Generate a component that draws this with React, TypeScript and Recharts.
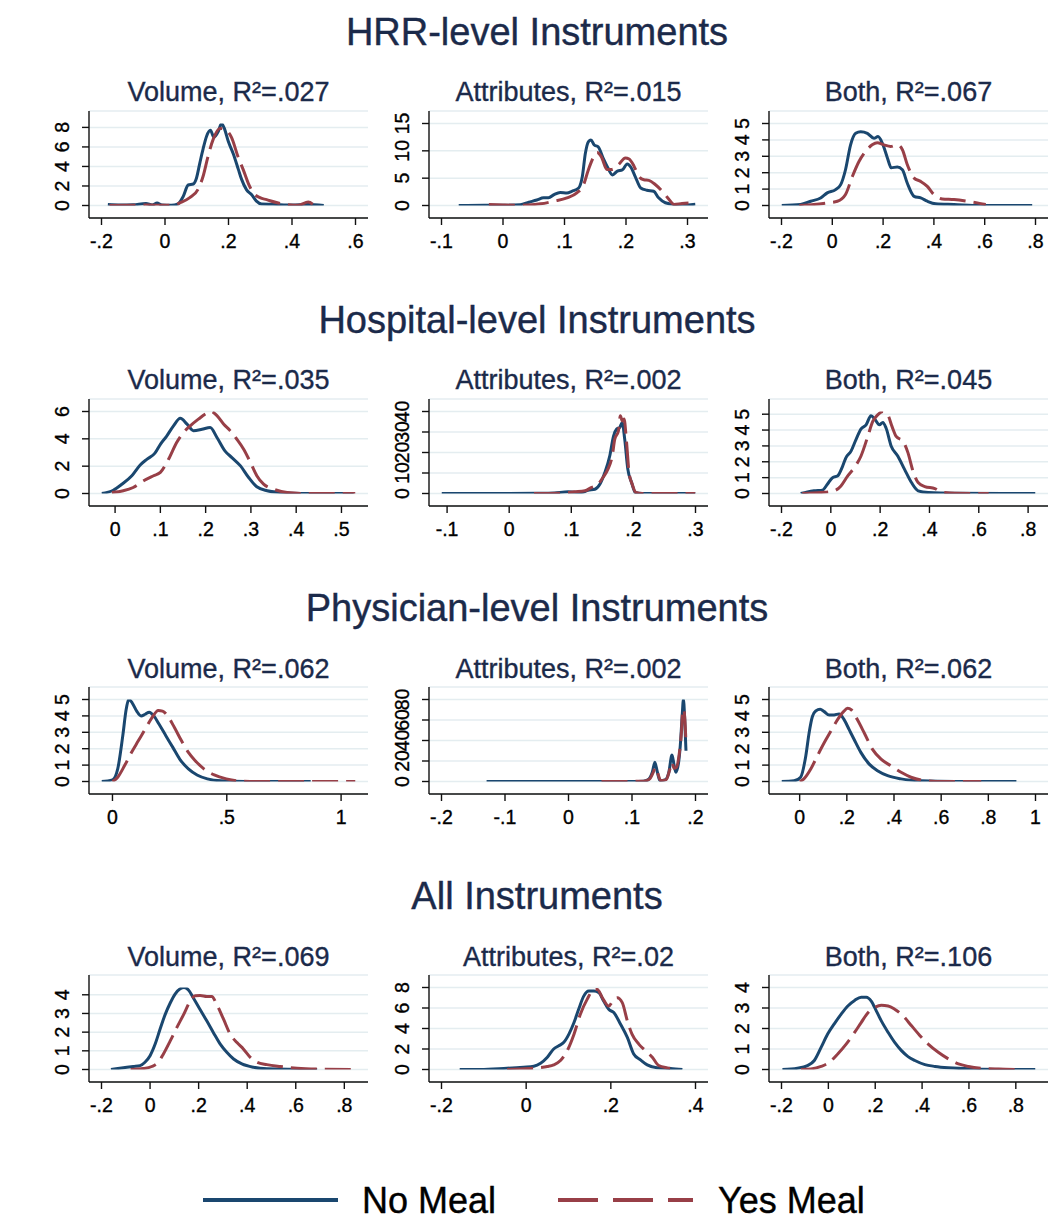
import React from 'react';
import { LineChart, Line, XAxis, YAxis, CartesianGrid } from 'recharts';

type Pt = [number, number];

// ---------- data (x, density) ----------
const hrrVolNo: Pt[] = [[-0.18,0.1],[-0.14,0.05],[-0.1,0.08],[-0.06,0.2],[-0.04,0.06],[-0.025,0.25],[-0.01,0.06],[0.02,0.03],[0.04,0.15],[0.057,0.9],[0.073,2.1],[0.089,2.2],[0.099,2.8],[0.11,4.4],[0.12,5.8],[0.131,7.1],[0.143,7.7],[0.154,7.0],[0.168,7.6],[0.178,8.4],[0.188,7.8],[0.199,6.6],[0.215,5.3],[0.231,3.7],[0.241,2.7],[0.257,1.6],[0.273,1.1],[0.288,0.45],[0.304,0.15],[0.34,0.12],[0.4,0.05],[0.45,0.1],[0.5,0.0]];
const hrrVolYes: Pt[] = [[-0.175,0],[-0.1,0.02],[-0.05,0.05],[0,0.02],[0.03,0.05],[0.047,0.28],[0.078,0.8],[0.104,1.65],[0.12,3.0],[0.136,5.1],[0.152,6.8],[0.173,7.9],[0.188,7.8],[0.209,7.0],[0.231,4.9],[0.246,3.7],[0.262,2.3],[0.278,1.3],[0.299,0.8],[0.32,0.6],[0.351,0.3],[0.383,0.1],[0.42,0.02],[0.451,0.35],[0.467,0.1]];
const hrrAttNo: Pt[] = [[-0.072,0],[-0.03,0.05],[0,0.05],[0.028,0.15],[0.042,0.6],[0.055,1.0],[0.066,1.4],[0.074,1.4],[0.083,2.0],[0.093,2.4],[0.104,2.3],[0.112,2.6],[0.123,3.2],[0.129,5.3],[0.134,9.6],[0.139,11.7],[0.143,12.0],[0.148,11.1],[0.155,10.7],[0.163,8.6],[0.17,7.0],[0.178,5.6],[0.186,6.3],[0.194,6.5],[0.202,7.6],[0.208,7.0],[0.215,5.3],[0.224,3.2],[0.234,2.8],[0.245,2.6],[0.253,1.4],[0.264,0.5],[0.278,0.2],[0.3,0.1],[0.313,0.25]];
const hrrAttYes: Pt[] = [[-0.023,0.2],[0,0.1],[0.02,0.05],[0.04,0.1],[0.061,0.3],[0.083,0.8],[0.104,1.4],[0.12,2.3],[0.131,3.8],[0.139,6.6],[0.148,9.0],[0.153,9.7],[0.16,8.9],[0.169,6.6],[0.177,6.6],[0.188,7.5],[0.199,8.7],[0.205,8.5],[0.213,7.2],[0.221,5.3],[0.229,4.7],[0.237,4.6],[0.248,3.8],[0.259,2.6],[0.27,1.1],[0.278,0.2],[0.291,0.36],[0.31,0.5]];
const hrrBothNo: Pt[] = [[-0.2,0],[-0.125,0.06],[-0.085,0.26],[-0.046,0.46],[-0.02,0.77],[0.013,0.97],[0.033,1.27],[0.052,2.18],[0.072,3.7],[0.092,4.4],[0.112,4.5],[0.138,4.4],[0.164,4.1],[0.18,4.2],[0.197,3.8],[0.217,2.9],[0.232,2.3],[0.256,2.35],[0.276,2.18],[0.295,1.37],[0.322,0.56],[0.348,0.46],[0.374,0.26],[0.407,0.1],[0.479,0.06],[0.584,0],[0.787,0]];
const hrrBothYes: Pt[] = [[-0.13,0],[-0.072,0.06],[-0.02,0.16],[0.02,0.26],[0.052,0.67],[0.079,1.77],[0.105,2.68],[0.131,3.3],[0.157,3.7],[0.177,3.83],[0.203,3.7],[0.23,3.6],[0.256,3.7],[0.276,3.4],[0.295,2.5],[0.322,1.67],[0.348,1.47],[0.374,1.17],[0.4,0.67],[0.433,0.4],[0.479,0.36],[0.531,0.26],[0.571,0.16],[0.604,0.06]];

const hospVolNo: Pt[] = [[-0.03,0],[-0.004,0.24],[0.015,0.68],[0.037,1.3],[0.055,2.07],[0.07,2.5],[0.088,2.95],[0.1,3.6],[0.114,4.2],[0.129,4.95],[0.144,5.5],[0.159,5.07],[0.173,4.6],[0.192,4.7],[0.21,4.83],[0.225,4.1],[0.243,3.1],[0.258,2.63],[0.277,2.02],[0.295,1.17],[0.313,0.49],[0.336,0.2],[0.365,0.07],[0.41,0],[0.527,0]];
const hospVolYes: Pt[] = [[-0.007,0.07],[0.018,0.2],[0.04,0.44],[0.063,0.93],[0.085,1.3],[0.1,1.54],[0.118,2.5],[0.136,3.73],[0.151,4.46],[0.166,4.95],[0.184,5.44],[0.203,5.88],[0.212,6.0],[0.225,5.7],[0.24,5.07],[0.254,4.6],[0.269,3.97],[0.284,3.24],[0.299,2.27],[0.313,1.3],[0.328,0.68],[0.35,0.32],[0.38,0.07],[0.424,0],[0.531,0]];
const hospAttNo: Pt[] = [[-0.109,0],[0,0],[0.05,0.1],[0.073,0.3],[0.095,0.8],[0.116,0.5],[0.127,1.6],[0.138,2.1],[0.146,4.5],[0.154,10.2],[0.162,18.4],[0.168,28],[0.173,31.4],[0.178,32.2],[0.182,34.6],[0.186,26.5],[0.191,11.9],[0.197,5.4],[0.203,0.5],[0.214,0],[0.3,0]];
const hospAttYes: Pt[] = [[0.04,0],[0.084,0.2],[0.105,0.8],[0.122,1.3],[0.132,2.9],[0.143,4.5],[0.151,7.8],[0.159,11.9],[0.166,18.4],[0.17,26.5],[0.176,30.6],[0.179,37.9],[0.182,35.4],[0.185,36.3],[0.189,24.9],[0.193,10.2],[0.198,4.6],[0.204,0.5],[0.214,0],[0.3,0]];
const hospBothNo: Pt[] = [[-0.122,0],[-0.095,0.1],[-0.068,0.17],[-0.034,0.21],[-0.014,0.58],[0.007,1.0],[0.027,1.1],[0.048,1.73],[0.061,2.25],[0.082,2.67],[0.102,3.4],[0.122,4.06],[0.143,4.33],[0.163,4.9],[0.18,4.65],[0.197,4.33],[0.211,4.48],[0.224,4.13],[0.245,2.98],[0.272,2.35],[0.299,1.52],[0.327,0.69],[0.354,0.17],[0.395,0.06],[0.503,0.02],[0.83,0]];
const hospBothYes: Pt[] = [[-0.116,0],[-0.041,0.06],[0.014,0.17],[0.041,0.48],[0.068,1.1],[0.095,1.63],[0.122,2.35],[0.15,3.6],[0.17,4.54],[0.19,4.96],[0.211,5.17],[0.231,4.96],[0.248,4.23],[0.265,3.6],[0.293,3.29],[0.313,2.56],[0.333,1.42],[0.354,0.69],[0.381,0.44],[0.422,0.31],[0.449,0.1],[0.503,0.02],[0.64,0]];

const physVolNo: Pt[] = [[-0.048,0],[0,0.1],[0.023,0.77],[0.045,2.78],[0.06,4.4],[0.071,5.0],[0.086,4.8],[0.106,4.29],[0.125,4.0],[0.143,4.1],[0.161,4.23],[0.181,4.0],[0.204,3.49],[0.234,2.78],[0.264,2.08],[0.294,1.37],[0.332,0.77],[0.37,0.4],[0.415,0.16],[0.475,0.04],[0.58,0],[0.867,0]];
const physVolYes: Pt[] = [[0,0],[0.023,0.26],[0.053,0.97],[0.083,1.77],[0.113,2.48],[0.143,3.19],[0.173,3.89],[0.2,4.33],[0.219,4.29],[0.241,4.0],[0.271,3.29],[0.302,2.48],[0.332,1.77],[0.362,1.27],[0.4,0.77],[0.445,0.4],[0.498,0.16],[0.55,0.04],[0.656,0],[1.063,0]];
const physAttNo: Pt[] = [[-0.129,0],[0,0],[0.1,0.1],[0.118,0.3],[0.125,1.6],[0.132,9],[0.136,18.7],[0.14,9],[0.144,1.0],[0.152,1.6],[0.158,9],[0.163,25.8],[0.166,17],[0.169,9],[0.173,17],[0.176,34.8],[0.179,63.9],[0.181,80],[0.183,60.6],[0.185,30]];
const physAttYes: Pt[] = [[0.052,0],[0.1,0.1],[0.118,0.3],[0.128,2.6],[0.134,9.7],[0.137,13.9],[0.141,7.4],[0.145,1.0],[0.154,1.9],[0.159,10.6],[0.163,18.7],[0.166,12.9],[0.17,13.9],[0.174,25.2],[0.178,49.4],[0.18,70.3],[0.182,68.7],[0.185,38]];
const physBothNo: Pt[] = [[-0.077,0],[-0.024,0.04],[0.004,0.26],[0.026,1.56],[0.04,2.96],[0.054,3.96],[0.068,4.3],[0.087,4.4],[0.104,4.26],[0.125,4.06],[0.146,4.06],[0.167,4.12],[0.189,3.76],[0.21,3.16],[0.231,2.56],[0.26,1.76],[0.295,1.06],[0.33,0.66],[0.373,0.36],[0.43,0.16],[0.515,0.04],[0.657,0],[0.919,0]];
const physBothYes: Pt[] = [[0,0],[0.018,0.16],[0.047,0.76],[0.075,1.56],[0.104,2.36],[0.132,3.06],[0.16,3.76],[0.186,4.26],[0.203,4.46],[0.22,4.36],[0.245,3.76],[0.274,2.96],[0.309,1.96],[0.345,1.36],[0.387,0.96],[0.43,0.56],[0.472,0.26],[0.529,0.06],[0.6,0],[0.77,0]];

const allVolNo: Pt[] = [[-0.161,0],[-0.11,0.09],[-0.069,0.16],[-0.041,0.21],[-0.021,0.39],[0,0.74],[0.021,1.36],[0.041,2.15],[0.062,2.94],[0.083,3.56],[0.103,4.04],[0.124,4.32],[0.14,4.39],[0.158,4.26],[0.179,3.82],[0.206,3.21],[0.234,2.59],[0.261,1.97],[0.289,1.36],[0.316,0.92],[0.344,0.56],[0.378,0.3],[0.426,0.12],[0.481,0.04],[0.688,0]];
const allVolYes: Pt[] = [[-0.08,0],[-0.028,0.05],[0.007,0.16],[0.034,0.39],[0.055,0.83],[0.083,1.53],[0.11,2.24],[0.138,2.94],[0.165,3.65],[0.186,3.95],[0.206,3.96],[0.234,3.91],[0.254,3.91],[0.275,3.47],[0.303,2.68],[0.33,1.89],[0.358,1.44],[0.385,1.09],[0.413,0.65],[0.44,0.39],[0.481,0.26],[0.536,0.16],[0.605,0.07],[0.702,0.02],[0.846,0]];
const allAttNo: Pt[] = [[-0.157,0],[-0.108,0],[-0.053,0.1],[-0.006,0.23],[0.018,0.32],[0.034,0.6],[0.05,1.19],[0.065,2.0],[0.077,2.32],[0.089,2.65],[0.101,3.45],[0.113,4.58],[0.124,5.87],[0.136,7.16],[0.148,7.65],[0.16,7.65],[0.172,7.48],[0.183,6.68],[0.195,5.87],[0.207,5.55],[0.223,4.42],[0.239,3.13],[0.254,1.52],[0.27,0.94],[0.286,0.45],[0.309,0.16],[0.341,0.1],[0.369,0]];
const allAttYes: Pt[] = [[-0.045,0],[-0.013,0.06],[0.026,0.16],[0.05,0.29],[0.065,0.45],[0.081,0.87],[0.097,1.84],[0.113,3.45],[0.128,5.39],[0.144,6.84],[0.16,7.8],[0.168,7.8],[0.18,7.0],[0.195,6.19],[0.207,6.84],[0.215,7.0],[0.227,6.52],[0.239,4.74],[0.25,3.45],[0.266,2.48],[0.282,1.84],[0.298,1.19],[0.313,0.39],[0.333,0.16],[0.357,0.06]];
const allBothNo: Pt[] = [[-0.196,0],[-0.132,0.06],[-0.089,0.19],[-0.06,0.44],[-0.031,1.08],[-0.003,1.73],[0.026,2.24],[0.054,2.69],[0.083,3.1],[0.112,3.37],[0.14,3.53],[0.162,3.53],[0.183,3.34],[0.205,2.85],[0.226,2.37],[0.255,1.81],[0.283,1.32],[0.312,0.92],[0.34,0.63],[0.369,0.44],[0.412,0.24],[0.455,0.15],[0.512,0.08],[0.612,0.03],[0.884,0]];
const allBothYes: Pt[] = [[-0.117,0],[-0.074,0.03],[-0.031,0.15],[0.004,0.35],[0.04,0.76],[0.076,1.24],[0.112,1.81],[0.14,2.29],[0.169,2.77],[0.197,3.02],[0.226,3.13],[0.255,3.1],[0.283,2.94],[0.319,2.61],[0.355,2.13],[0.391,1.65],[0.426,1.24],[0.469,0.84],[0.512,0.52],[0.555,0.27],[0.598,0.15],[0.655,0.06],[0.727,0.02],[0.798,0]];

// ---------- labels & ticks ----------
const sectionTitles = ['HRR-level Instruments', 'Hospital-level Instruments', 'Physician-level Instruments', 'All Instruments'];
const panelTitles = [
  'Volume, R\u00B2=.027', 'Attributes, R\u00B2=.015', 'Both, R\u00B2=.067',
  'Volume, R\u00B2=.035', 'Attributes, R\u00B2=.002', 'Both, R\u00B2=.045',
  'Volume, R\u00B2=.062', 'Attributes, R\u00B2=.002', 'Both, R\u00B2=.062',
  'Volume, R\u00B2=.069', 'Attributes, R\u00B2=.02', 'Both, R\u00B2=.106',
];
const xTickSets: number[][] = [
  [-0.2, 0, 0.2, 0.4, 0.6], [-0.1, 0, 0.1, 0.2, 0.3], [-0.2, 0, 0.2, 0.4, 0.6, 0.8],
  [0, 0.1, 0.2, 0.3, 0.4, 0.5], [-0.1, 0, 0.1, 0.2, 0.3], [-0.2, 0, 0.2, 0.4, 0.6, 0.8],
  [0, 0.5, 1], [-0.2, -0.1, 0, 0.1, 0.2], [0, 0.2, 0.4, 0.6, 0.8, 1],
  [-0.2, 0, 0.2, 0.4, 0.6, 0.8], [-0.2, 0, 0.2, 0.4], [-0.2, 0, 0.2, 0.4, 0.6, 0.8],
];
const yTickSets: number[][] = [
  [0, 2, 4, 6, 8], [0, 5, 10, 15], [0, 1, 2, 3, 4, 5],
  [0, 2, 4, 6], [0, 10, 20, 30, 40], [0, 1, 2, 3, 4, 5],
  [0, 1, 2, 3, 4, 5], [0, 20, 40, 60, 80], [0, 1, 2, 3, 4, 5],
  [0, 1, 2, 3, 4], [0, 2, 4, 6, 8], [0, 1, 2, 3, 4],
];
const noMealSeries: Pt[][] = [hrrVolNo, hrrAttNo, hrrBothNo, hospVolNo, hospAttNo, hospBothNo, physVolNo, physAttNo, physBothNo, allVolNo, allAttNo, allBothNo];
const yesMealSeries: Pt[][] = [hrrVolYes, hrrAttYes, hrrBothYes, hospVolYes, hospAttYes, hospBothYes, physVolYes, physAttYes, physBothYes, allVolYes, allAttYes, allBothYes];
const legendLabels = ['No Meal', 'Yes Meal'];

// ---------- style ----------
const FONT = '"Liberation Sans", Arial, Helvetica, sans-serif';
const NAVY = '#1a476f';
const MAROON = '#983f47';
const TITLE = '#1b2a4a';
const GRID = '#e4edf0';
const TICK_FS = 19.5;

const PLOT_W = 279;
const PLOT_H = 107;
const COL_X = [89, 429, 769];
const ROW_TOP = [111, 399, 687, 975];
const PANEL_TITLE_Y = [101, 389, 678, 966];
const SECTION_Y = [45, 333, 621, 909];
const Y_AXIS_W = 50;
const M_TOP = 5;
const M_RIGHT = 6;
const X_AXIS_H = 40;
const PAD = 12.5;

const fmtX = (v: number) => {
  if (v === 0) return '0';
  const s = String(v);
  return s.replace('0.', '.');
};

const RotTick = (props: any) => {
  const { x, y, payload } = props;
  return (
    <text x={x} y={y} transform={`rotate(-90 ${x} ${y})`} textAnchor="middle" fontSize={TICK_FS} fontFamily={FONT} fill="#000" stroke="#000" strokeWidth={0.35}>
      {payload.value}
    </text>
  );
};

const XTick = (props: any) => {
  const { x, y, payload } = props;
  return (
    <text x={x} y={y} dy={TICK_FS * 0.72} textAnchor="middle" fontSize={TICK_FS} fontFamily={FONT} fill="#000" stroke="#000" strokeWidth={0.35}>
      {fmtX(payload.value)}
    </text>
  );
};

const toObj = (a: Pt[]) => a.map(([x, y]) => ({ x, y }));

function Panel({ i }: { i: number }) {
  const col = i % 3;
  const row = Math.floor(i / 3);
  const navy = toObj(noMealSeries[i]);
  const red = toObj(yesMealSeries[i]);
  const xt = xTickSets[i];
  const yt = yTickSets[i];
  const all = [...noMealSeries[i], ...yesMealSeries[i]];
  const xMin = Math.min(xt[0], ...all.map((p) => p[0]));
  const xMax = Math.max(xt[xt.length - 1], ...all.map((p) => p[0]));
  const yMin = Math.min(yt[0], ...all.map((p) => p[1]));
  const yMax = Math.max(yt[yt.length - 1], ...all.map((p) => p[1]));
  const left = COL_X[col] - Y_AXIS_W;
  const top = ROW_TOP[row] - M_TOP;
  const W = Y_AXIS_W + PLOT_W + M_RIGHT;
  const H = M_TOP + PLOT_H + X_AXIS_H;
  return (
    <div style={{ position: 'absolute', left, top, width: W, height: H }}>
      <LineChart width={W} height={H} margin={{ top: M_TOP, right: M_RIGHT, bottom: 0, left: 0 }}>
        <CartesianGrid horizontal vertical={false} stroke={GRID} strokeWidth={1.5} />
        <XAxis
          type="number"
          dataKey="x"
          domain={[xMin, xMax]}
          allowDataOverflow
          ticks={xt}
          interval={0}
          padding={{ left: PAD, right: PAD }}
          height={X_AXIS_H}
          tickSize={7}
          tickMargin={9}
          axisLine={{ stroke: '#111', strokeWidth: 1.4 }}
          tickLine={{ stroke: '#111', strokeWidth: 1.4 }}
          tick={(p: any) => <XTick {...p} />}
        />
        <YAxis
          type="number"
          dataKey="y"
          domain={[yMin, yMax]}
          allowDataOverflow
          ticks={yt}
          interval={0}
          padding={{ top: PAD, bottom: PAD }}
          width={Y_AXIS_W}
          tickSize={7}
          tickMargin={13}
          axisLine={{ stroke: '#111', strokeWidth: 1.4 }}
          tickLine={{ stroke: '#111', strokeWidth: 1.4 }}
          tick={(p: any) => <RotTick {...p} />}
        />
        <Line data={navy} dataKey="y" type="monotone" stroke={NAVY} strokeWidth={3} dot={false} activeDot={false} isAnimationActive={false} />
        <Line data={red} dataKey="y" type="monotone" stroke={MAROON} strokeWidth={3} strokeDasharray="26 8" dot={false} activeDot={false} isAnimationActive={false} />
      </LineChart>
    </div>
  );
}

export default function App() {
  return (
    <div style={{ position: 'absolute', left: 0, top: 0, width: 1057, height: 1220, background: '#fff', fontFamily: FONT }}>
      <svg width={1057} height={1220} style={{ position: 'absolute', left: 0, top: 0 }}>
        {sectionTitles.map((t, r) => (
          <text key={t} x={537} y={SECTION_Y[r]} textAnchor="middle" fontSize={38} fontFamily={FONT} fill={TITLE} stroke={TITLE} strokeWidth={0.4}>{t}</text>
        ))}
        {panelTitles.map((t, i) => (
          <text key={i} x={COL_X[i % 3] + PLOT_W / 2} y={PANEL_TITLE_Y[Math.floor(i / 3)]} textAnchor="middle" fontSize={27} fontFamily={FONT} fill={TITLE} stroke={TITLE} strokeWidth={0.35}>{t}</text>
        ))}
        <line x1={203} y1={1200} x2={338} y2={1200} stroke={NAVY} strokeWidth={4} />
        <text x={362} y={1213} fontSize={36} fontFamily={FONT} fill="#000" stroke="#000" strokeWidth={0.4}>{legendLabels[0]}</text>
        <line x1={558} y1={1200} x2={693} y2={1200} stroke={MAROON} strokeWidth={4} strokeDasharray="40 15" />
        <text x={718} y={1213} fontSize={36} fontFamily={FONT} fill="#000" stroke="#000" strokeWidth={0.4}>{legendLabels[1]}</text>
      </svg>
      {panelTitles.map((_, i) => (
        <Panel key={i} i={i} />
      ))}
    </div>
  );
}
